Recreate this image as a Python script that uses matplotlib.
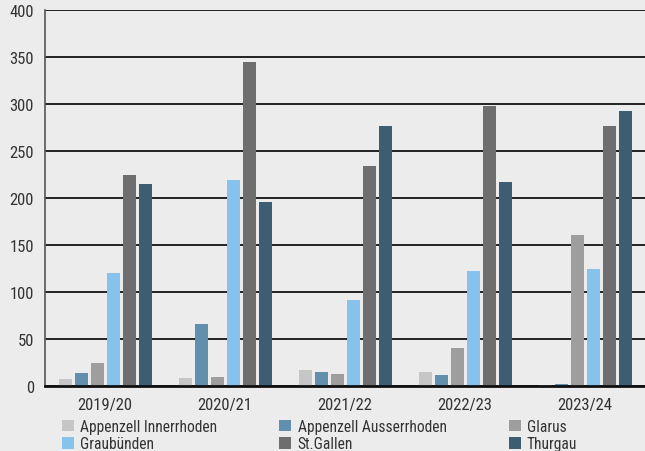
import matplotlib.pyplot as plt
from matplotlib import font_manager as fm
import numpy as np

seasons = ["2019/20", "2020/21", "2021/22", "2022/23", "2023/24"]
cantons = ["Appenzell Innerrhoden", "Appenzell Ausserrhoden", "Glarus",
           "Graubünden", "St.Gallen", "Thurgau"]
appenzell_ir = [7, 8, 17, 15, 1]
appenzell_ar = [14, 66, 15, 12, 2]
glarus = [25, 10, 13, 40, 161]
graubuenden = [120, 219, 91, 122, 124]
st_gallen = [225, 345, 234, 298, 277]
thurgau = [215, 196, 277, 217, 293]
series = [appenzell_ir, appenzell_ar, glarus, graubuenden, st_gallen, thurgau]
colors = ["#c6c6c6", "#6090ae", "#9e9e9e", "#86c2ec", "#6e6e6e", "#3c5d72"]

# condensed font like the original, if one is around
have = {f.name for f in fm.fontManager.ttflist}
wanted = ["Liberation Sans Narrow", "Arial Narrow", "Roboto Condensed",
          "Archivo Narrow", "PT Sans Narrow", "Fira Sans Condensed",
          "IBM Plex Sans Condensed", "Open Sans Condensed", "Pragati Narrow"]
fams = [n for n in wanted if n in have][:1] + ["DejaVu Sans"]
plt.rcParams['font.family'] = fams
txt = "#333333"
bg = "#ececec"

fig = plt.figure(figsize=(6.45, 4.52), dpi=100, facecolor=bg)
ax = fig.add_axes([45/645, 65/452, 600/645, 376/452], facecolor=bg)

x = np.arange(len(seasons))
w = 13/120
step = 16/120
bars = []
for i, (vals, c) in enumerate(zip(series, colors)):
    b = ax.bar(x + (i - 2.5)*step, vals, width=w, color=c, zorder=3)
    bars.append(b)

ax.set_xlim(-0.5, 4.5)
ax.set_ylim(0, 400)
ax.set_yticks(range(0, 401, 50))
ax.set_xticks(x, seasons)
ax.grid(axis="y", color="#222222", lw=1.4, zorder=1)
ax.tick_params(length=0, labelsize=12, colors=txt)
ax.tick_params(axis="y", pad=8)
ax.tick_params(axis="x", pad=8)
for s in ["top", "right"]:
    ax.spines[s].set_visible(False)
ax.spines["left"].set_color("#555555")
ax.spines["left"].set_linewidth(1.2)
ax.spines["bottom"].set_color("#111111")
ax.spines["bottom"].set_linewidth(2)
ax.spines["bottom"].set_zorder(4)

# legend fills column-wise, so reorder for row-wise reading
order = [0, 3, 1, 4, 2, 5]
leg = fig.legend([bars[i] for i in order], [cantons[i] for i in order],
                 ncol=3, loc="upper left", bbox_to_anchor=(54/645, 1 - 412/452),
                 frameon=False, fontsize=11.2, handlelength=0.77, handleheight=0.77,
                 handletextpad=0.4, columnspacing=4.0, labelspacing=0.17,
                 borderpad=0, labelcolor=txt)

fig.savefig("out.png", dpi=100, facecolor=bg)
